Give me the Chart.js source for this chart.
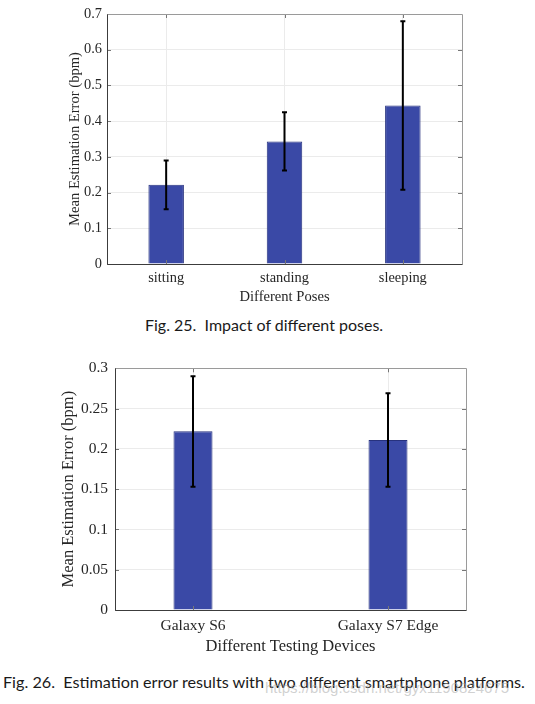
<!DOCTYPE html>
<html>
<head>
<meta charset="utf-8">
<script src="https://cdn.jsdelivr.net/npm/chart.js@4.4.0/dist/chart.umd.min.js"></script>
<style>
  html, body { margin: 0; padding: 0; background: #fff; }
  body { width: 535px; height: 704px; position: relative; overflow: hidden; }
  canvas { position: absolute; left: 0; }
  .cap { position: absolute; font-family: Lato, "Open Sans", sans-serif; color: #1a1a1a;
         white-space: pre; line-height: 1; }
  #wm { position: absolute; left: 265px; top: 680px; font-family: "Liberation Sans", sans-serif;
        font-size: 15px; color: rgba(170,170,170,0.55); white-space: pre; line-height: 1; }
</style>
</head>
<body>
<canvas id="poses" width="535" height="310" style="top:0"></canvas>
<canvas id="devices" width="535" height="310" style="top:350px"></canvas>
<div class="cap" id="cap1" style="left:145px;top:317px;font-size:16px">Fig. 25.  Impact of different poses.</div>
<div class="cap" id="cap2" style="left:3px;top:674px;font-size:16.2px">Fig. 26.  Estimation error results with two different smartphone platforms.</div>
<div id="wm">https://blog.csdn.net/gyx1190824675</div>

<script>
// --------- Data ----------
const poses      = ['sitting', 'standing', 'sleeping'];
const poseMean   = [0.222, 0.343, 0.444];
const poseLow    = [0.153, 0.262, 0.208];
const poseHigh   = [0.290, 0.425, 0.680];
const poseTicks  = [0, 0.1, 0.2, 0.3, 0.4, 0.5, 0.6, 0.7];

const devices     = ['Galaxy S6', 'Galaxy S7 Edge'];
const deviceMean  = [0.222, 0.211];
const deviceLow   = [0.153, 0.153];
const deviceHigh  = [0.290, 0.269];
const deviceTicks = [0, 0.05, 0.1, 0.15, 0.2, 0.25, 0.3];

// --------- Styles ----------
const SERIF    = '"Liberation Serif", "Times New Roman", serif';
const TXT      = '#262626';
const GRID     = '#ebebeb';
const BAR      = '#3a49a6';
const BAR_EDGE = '#27327e';

// error bars, box and inward tick marks (MATLAB look)
const matlabBox = {
  id: 'matlabBox',
  afterDatasetsDraw(chart, args, opts) {
    const { ctx, chartArea: a, scales: { x, y } } = chart;
    ctx.save();

    // error bars
    ctx.strokeStyle = '#000';
    ctx.lineWidth = 2;
    opts.low.forEach((lo, i) => {
      const px = x.getPixelForValue(i + 1);
      const y1 = y.getPixelForValue(lo);
      const y2 = y.getPixelForValue(opts.high[i]);
      ctx.beginPath();
      ctx.moveTo(px, y1); ctx.lineTo(px, y2);
      ctx.moveTo(px - 2.5, y1); ctx.lineTo(px + 2.5, y1);
      ctx.moveTo(px - 2.5, y2); ctx.lineTo(px + 2.5, y2);
      ctx.stroke();
    });

    // tick marks pointing in
    ctx.lineWidth = 1;
    ctx.strokeStyle = '#777';
    ctx.beginPath();
    y.ticks.forEach(t => {
      const py = Math.round(y.getPixelForValue(t.value)) + 0.5;
      ctx.moveTo(a.left, py);  ctx.lineTo(a.left + 4, py);
      ctx.moveTo(a.right, py); ctx.lineTo(a.right - 4, py);
    });
    x.ticks.forEach(t => {
      const px = Math.round(x.getPixelForValue(t.value)) + 0.5;
      ctx.moveTo(px, a.bottom); ctx.lineTo(px, a.bottom - 4);
      ctx.moveTo(px, a.top);    ctx.lineTo(px, a.top + 4);
    });
    ctx.stroke();

    // box
    const l = Math.round(a.left) + 0.5, r = Math.round(a.right) + 0.5;
    const t = Math.round(a.top) + 0.5, b = Math.round(a.bottom) + 0.5;
    ctx.strokeStyle = '#9a9a9a';
    ctx.beginPath();
    ctx.moveTo(l, t); ctx.lineTo(r, t); ctx.lineTo(r, b);
    ctx.stroke();
    ctx.strokeStyle = '#3c3c3c';
    ctx.beginPath();
    ctx.moveTo(l, t); ctx.lineTo(l, b); ctx.lineTo(r, b);
    ctx.stroke();
    ctx.restore();
  }
};

function makeChart(id, o) {
  return new Chart(document.getElementById(id), {
    type: 'bar',
    data: {
      datasets: [{
        data: o.labels.map((_, i) => ({ x: i + 1, y: o.mean[i] })),
        backgroundColor: BAR,
        borderColor: BAR_EDGE,
        borderWidth: 1,
        barPercentage: o.barPct,
        categoryPercentage: 1
      }]
    },
    options: {
      responsive: false,
      animation: false,
      layout: { padding: o.pad },
      plugins: {
        legend: { display: false },
        tooltip: { enabled: false },
        matlabBox: { low: o.low, high: o.high }
      },
      scales: {
        x: {
          type: 'linear',
          min: o.xMin,
          max: o.xMax,
          offset: false,
          afterBuildTicks: s => { s.ticks = o.labels.map((_, i) => ({ value: i + 1 })); },
          afterFit: s => { s.height = o.xH; },
          grid: { color: GRID, drawTicks: false, offset: false },
          border: { display: false },
          ticks: {
            callback: v => o.labels[v - 1],
            font: { family: SERIF, size: o.tickSize },
            color: TXT,
            padding: o.xTickPad,
            autoSkip: false,
            maxRotation: 0
          },
          title: {
            display: true, text: o.xTitle, color: TXT,
            font: { family: SERIF, size: o.titleSize },
            padding: { top: 0, bottom: 0 }
          }
        },
        y: {
          min: 0,
          max: o.yTicks[o.yTicks.length - 1],
          afterBuildTicks: s => { s.ticks = o.yTicks.map(v => ({ value: v })); },
          afterFit: s => { s.width = o.yW; },
          grid: { color: GRID, drawTicks: false },
          border: { display: false },
          ticks: {
            callback: v => String(v),
            font: { family: SERIF, size: o.tickSize },
            color: TXT,
            padding: o.yTickPad
          },
          title: {
            display: true, text: 'Mean Estimation Error (bpm)', color: TXT,
            font: { family: SERIF, size: o.titleSize },
            padding: { top: 0, bottom: 0 }
          }
        }
      }
    },
    plugins: [matlabBox]
  });
}

// --------- Charts ----------
makeChart('poses', {
  labels: poses, mean: poseMean, low: poseLow, high: poseHigh, yTicks: poseTicks,
  xMin: 0.5, xMax: 3.5, barPct: 0.3,
  xTitle: 'Different Poses',
  tickSize: 14.4, titleSize: 14.6,
  pad: { left: 66, right: 73, top: 14, bottom: 4 },
  yW: 41, xH: 42, yTickPad: 5, xTickPad: 6
});

makeChart('devices', {
  labels: devices, mean: deviceMean, low: deviceLow, high: deviceHigh, yTicks: deviceTicks,
  xMin: 0.6, xMax: 2.4, barPct: 0.2,
  xTitle: 'Different Testing Devices',
  tickSize: 15.5, titleSize: 16.5,
  pad: { left: 58.6, right: 69, top: 18.3, bottom: 3.7 },
  yW: 56.4, xH: 46.3, yTickPad: 7, xTickPad: 6.5
});
</script>
</body>
</html>
